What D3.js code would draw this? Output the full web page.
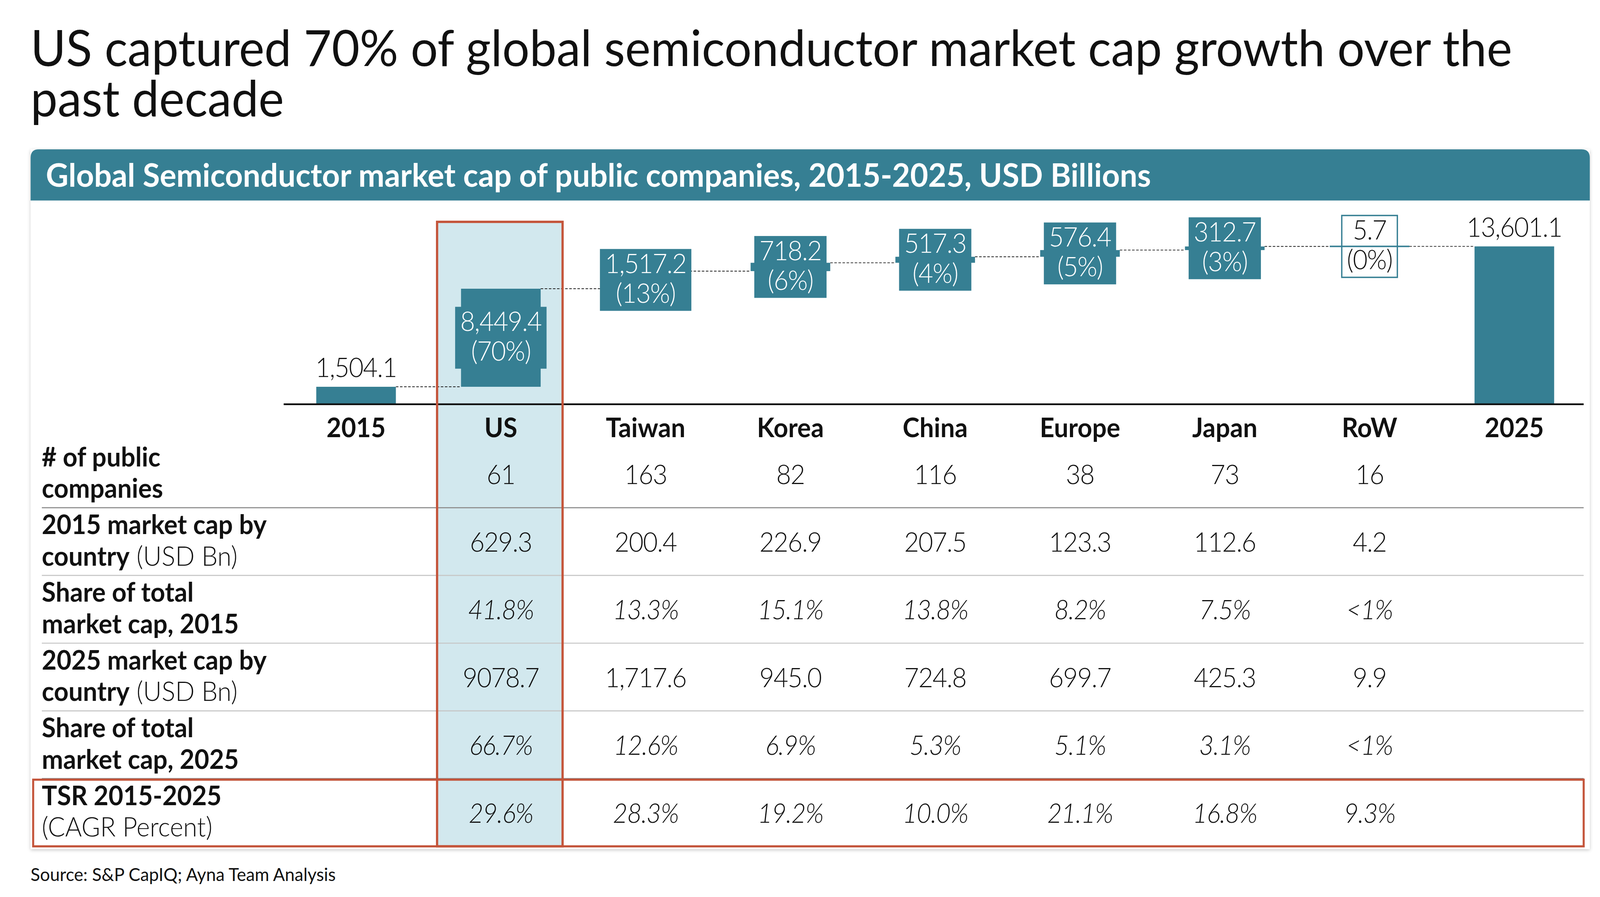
<!DOCTYPE html>
<html>
<head>
<meta charset="utf-8">
<script src="https://cdn.jsdelivr.net/npm/d3@7"></script>
<style>
  html, body { margin: 0; padding: 0; background: #fff; overflow: hidden; }
  #chart { display: block; width: 100vw; height: 100vh; }
  text { font-family: Lato, "Open Sans", sans-serif; }
</style>
</head>
<body>
<svg id="chart"></svg>
<script>
// waterfall categories and steps (USD Bn)
var categories = ["2015", "US", "Taiwan", "Korea", "China", "Europe", "Japan", "RoW", "2025"];
var steps = [1504.1, 8449.4, 1517.2, 718.2, 517.3, 576.4, 312.7, 5.7, 13601.1];
var stepLabels = ["1,504.1", "8,449.4", "1,517.2", "718.2", "517.3", "576.4", "312.7", "5.7", "13,601.1"];
var shareLabels = ["", "(70%)", "(13%)", "(6%)", "(4%)", "(5%)", "(3%)", "(0%)", ""];

// table below the chart, one value per country (US .. RoW)
var countries = ["US", "Taiwan", "Korea", "China", "Europe", "Japan", "RoW"];
var companyCounts = ["61", "163", "82", "116", "38", "73", "16"];
var cap2015 = ["629.3", "200.4", "226.9", "207.5", "123.3", "112.6", "4.2"];
var share2015 = ["41.8%", "13.3%", "15.1%", "13.8%", "8.2%", "7.5%", "<1%"];
var cap2025 = ["9078.7", "1,717.6", "945.0", "724.8", "699.7", "425.3", "9.9"];
var share2025 = ["66.7%", "12.6%", "6.9%", "5.3%", "5.1%", "3.1%", "<1%"];
var tsr = ["29.6%", "28.3%", "19.2%", "10.0%", "21.1%", "16.8%", "9.3%"];

var rowLabel1 = ["# of public", "2015 market cap by", "Share of total", "2025 market cap by", "Share of total", "TSR 2015-2025"];
var rowLabel2Bold = ["companies", "country", "market cap, 2015", "country", "market cap, 2025", ""];
var rowLabel2Reg = ["", " (USD Bn)", "", " (USD Bn)", "", "(CAGR Percent)"];
var tableRows = [companyCounts, cap2015, share2015, cap2025, share2025, tsr];
var italicRows = [false, false, true, false, true, true];

var teal = "#367f93";
var red = "#c4553b";
var numSize = "25px";
var numSpacing = "-0.6px";

//work in the coordinates of a 1568 wide layout, svg is stretched to fill the window
var vw = 1568, vh = 841;
var svg = d3.select("#chart")
  .attr("viewBox", "0 0 " + vw + " " + vh)
  .attr("preserveAspectRatio", "none");

var defs = svg.append("defs");
var shadow = defs.append("filter").attr("id", "shadow")
  .attr("x", "-2%").attr("y", "-2%").attr("width", "104%").attr("height", "106%");
shadow.append("feDropShadow")
  .attr("dx", 0).attr("dy", 1).attr("stdDeviation", 1.6)
  .attr("flood-color", "#000").attr("flood-opacity", 0.22);

//scale font so text fits a given width
function fitWidth(sel, width) {
  var fs = parseFloat(sel.style("font-size"));
  var w = sel.node().getComputedTextLength();
  sel.style("font-size", (fs * width / w) + "px");
  return fs * width / w;
}

function numText(sel) {
  return sel.style("font-size", numSize).style("font-weight", 300)
    .style("letter-spacing", numSpacing);
}

// main title
var t1 = svg.append("text").attr("x", 30).attr("y", 62)
  .style("font-size", "47px").style("fill", "#111")
  .text("US captured 70% of global semiconductor market cap growth over the");
var titleSize = fitWidth(t1, 1452);
svg.append("text").attr("x", 30).attr("y", 109)
  .style("font-size", titleSize + "px").style("fill", "#111")
  .text("past decade");

// card and header band
svg.append("rect")
  .attr("x", 30).attr("y", 140).attr("width", 1528).attr("height", 656)
  .attr("fill", "#fff").attr("filter", "url(#shadow)");
svg.append("path")
  .attr("d", "M30,188 L30,148 Q30,140 38,140 L1550,140 Q1558,140 1558,148 L1558,188 Z")
  .attr("fill", teal);
var sub = svg.append("text").attr("x", 45).attr("y", 175)
  .style("font-size", "29px").style("font-weight", 700).style("fill", "#fff")
  .text("Global Semiconductor market cap of public companies, 2015-2025, USD Billions");
fitWidth(sub, 1083);

// scales
var x = d3.scaleBand().domain(categories).range([278, 1555])
  .paddingInner(0.45).paddingOuter(0.225);
var y = d3.scaleLinear().domain([0, 13601.1]).range([379, 231]);
var bw = x.bandwidth();
var cx = function (c) { return x(c) + bw / 2; };

// table geometry
var rowTop = 412.5, rowH = 63.5;

// US highlight column
svg.append("rect")
  .attr("x", cx("US") - 62.5).attr("y", 208)
  .attr("width", 123).attr("height", rowTop + 6 * rowH - 208)
  .attr("fill", "#d2e8ee");

// waterfall bars: start/end of each step
var bars = [];
var running = 0;
categories.forEach(function (c, i) {
  var b = {cat: c, i: i};
  if (i === 0 || i === categories.length - 1) {
    b.y0 = 0; b.y1 = steps[i];
    running = steps[i];
  } else {
    b.y0 = running; b.y1 = running + steps[i];
    running = b.y1;
  }
  bars.push(b);
});

// dashed connectors between bars
var g = svg.append("g");
bars.slice(0, -1).forEach(function (b, i) {
  var next = bars[i + 1];
  g.append("line")
    .attr("x1", x(b.cat) + bw).attr("x2", x(next.cat))
    .attr("y1", y(b.y1)).attr("y2", y(b.y1))
    .attr("stroke", "#222").attr("stroke-width", 0.7)
    .attr("stroke-dasharray", "2.5,1.5");
});

// label boxes for floating steps (drawn before bars so RoW line sits on top)
var boxH = 58;
bars.forEach(function (b) {
  if (b.i === 0 || b.i === bars.length - 1) return;
  var mid = (y(b.y0) + y(b.y1)) / 2;
  var isSmall = b.cat === "RoW";
  var lg = g.append("g");
  var box = lg.append("rect");
  var l1 = numText(lg.append("text")).attr("x", cx(b.cat)).attr("y", mid - 6.5)
    .attr("text-anchor", "middle")
    .style("fill", isSmall ? "#111" : "#fff").text(stepLabels[b.i]);
  var l2 = numText(lg.append("text")).attr("x", cx(b.cat)).attr("y", mid + 21.5)
    .attr("text-anchor", "middle")
    .style("fill", isSmall ? "#111" : "#fff").text(shareLabels[b.i]);
  var tw = Math.max(l1.node().getComputedTextLength(), l2.node().getComputedTextLength()) + 10;
  box.attr("x", cx(b.cat) - tw / 2).attr("y", mid - boxH / 2)
    .attr("width", tw).attr("height", boxH)
    .attr("fill", isSmall ? "#fff" : teal)
    .attr("stroke", isSmall ? teal : "none").attr("stroke-width", 1.3);
  b.group = lg;
});

bars.forEach(function (b) {
  var top = y(Math.max(b.y0, b.y1));
  var h = Math.max(1.4, Math.abs(y(b.y0) - y(b.y1)));
  g.append("rect")
    .attr("x", x(b.cat)).attr("width", bw)
    .attr("y", b.cat === "RoW" ? top - h / 2 : top).attr("height", h)
    .attr("fill", teal);
  // keep label text in front of floating bars
  if (b.group && b.cat !== "RoW") b.group.raise();
});

// end labels above first and last bars
[bars[0], bars[bars.length - 1]].forEach(function (b) {
  numText(g.append("text")).attr("x", cx(b.cat)).attr("y", y(b.y1) - 9)
    .attr("text-anchor", "middle")
    .style("fill", "#111").text(stepLabels[b.i]);
});

// axis baseline and category labels
var axis = svg.append("g").attr("transform", "translate(0,379)")
  .call(d3.axisBottom(x).tickSize(0).tickPadding(0));
axis.select(".domain").attr("d", "M278,0H1552").attr("stroke", "#111").attr("stroke-width", 1.6);
axis.selectAll(".tick text")
  .attr("y", 31).attr("dy", null)
  .style("font-family", "Lato, sans-serif")
  .style("font-size", "25px").style("font-weight", 700).style("fill", "#111");

// table rows
var tg = svg.append("g");
tableRows.forEach(function (vals, r) {
  var mid = rowTop + rowH * (r + 0.5);
  var lab = tg.append("text").attr("x", 41).style("font-size", "25px").style("fill", "#111");
  lab.append("tspan").attr("x", 41).attr("y", mid - 7).style("font-weight", 700).text(rowLabel1[r]);
  var second = lab.append("tspan").attr("x", 41).attr("y", mid + 22.5);
  second.append("tspan").style("font-weight", 700).text(rowLabel2Bold[r]);
  second.append("tspan").style("font-weight", 300).text(rowLabel2Reg[r]);

  vals.forEach(function (v, k) {
    numText(tg.append("text")).attr("x", cx(countries[k])).attr("y", mid + 9.5)
      .attr("text-anchor", "middle")
      .style("font-style", italicRows[r] ? "italic" : "normal")
      .style("fill", "#111").text(v);
  });

  if (r < tableRows.length - 1) {
    var dark = (r === 0 || r === tableRows.length - 2);
    tg.append("line")
      .attr("x1", 41).attr("x2", 1552)
      .attr("y1", rowTop + rowH * (r + 1)).attr("y2", rowTop + rowH * (r + 1))
      .attr("stroke", dark ? "#8c8c8c" : "#c6c6c6").attr("stroke-width", 1);
  }
});

// red outline for TSR row and US column
var tsrTop = rowTop + rowH * 5;
svg.append("rect")
  .attr("x", 32.5).attr("y", tsrTop + 1).attr("width", 1519.5).attr("height", rowH - 1)
  .attr("fill", "none").attr("stroke", red).attr("stroke-width", 2);
svg.append("rect")
  .attr("x", cx("US") - 62.5).attr("y", 208)
  .attr("width", 123).attr("height", rowTop + 6 * rowH - 208)
  .attr("fill", "none").attr("stroke", red).attr("stroke-width", 2.2);

// source
var src = svg.append("text").attr("x", 30).attr("y", 826)
  .style("font-size", "17px").style("fill", "#111")
  .text("Source: S&P CapIQ; Ayna Team Analysis");
fitWidth(src, 299);
</script>
</body>
</html>
